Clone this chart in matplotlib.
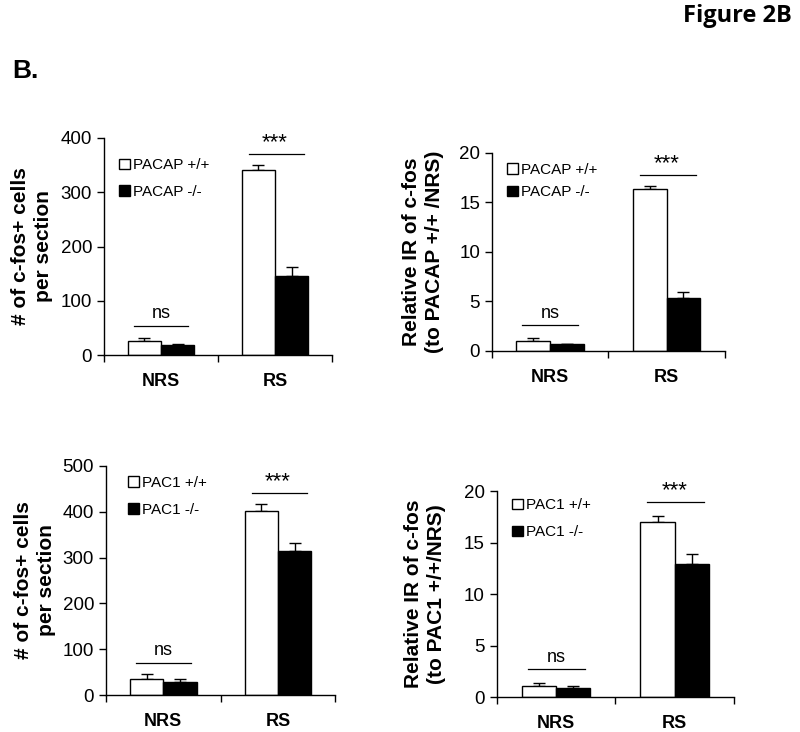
import matplotlib
matplotlib.use("Agg")
import matplotlib.pyplot as plt
from matplotlib.patches import Patch

plt.rcParams['font.family'] = ['Liberation Sans', 'DejaVu Sans']

# datos
groups = ["NRS", "RS"]

# panel A: c-fos+ cells, PACAP
pacap_cells_wt = [25, 341]
pacap_cells_wt_err = [6, 9]
pacap_cells_ko = [18, 145]
pacap_cells_ko_err = [2, 17]

# panel B: relative IR, PACAP
pacap_ir_wt = [1.04, 16.37]
pacap_ir_wt_err = [0.24, 0.25]
pacap_ir_ko = [0.67, 5.31]
pacap_ir_ko_err = [0.03, 0.67]

# panel C: c-fos+ cells, PAC1
pac1_cells_wt = [35, 402]
pac1_cells_wt_err = [10, 14]
pac1_cells_ko = [29, 315]
pac1_cells_ko_err = [6, 17]

# panel D: relative IR, PAC1
pac1_ir_wt = [1.04, 17.02]
pac1_ir_wt_err = [0.32, 0.55]
pac1_ir_ko = [0.87, 12.91]
pac1_ir_ko_err = [0.23, 0.94]


def panel(ax, wt, wt_err, ko, ko_err, ymax, ystep, ns_y, star_y,
          ylabel, labels, leg_anchor, leg_space=0.85, lpad=4):
    w = 0.29
    xs = [0.5, 1.5]
    xw = [x - w / 2 for x in xs]
    xk = [x + w / 2 for x in xs]
    ax.bar(xw, wt, w, color="white", edgecolor="black", linewidth=1, zorder=2)
    ax.bar(xk, ko, w, color="black", edgecolor="black", linewidth=1, zorder=2)
    ax.errorbar(xw, wt, yerr=[[0, 0], wt_err], fmt="none", ecolor="black",
                elinewidth=1, capsize=4, capthick=1, zorder=1)
    ax.errorbar(xk, ko, yerr=[[0, 0], ko_err], fmt="none", ecolor="black",
                elinewidth=1, capsize=4, capthick=1, zorder=1)
    # lineas de significancia
    ax.plot([0.26, 0.74], [ns_y, ns_y], color="black", lw=0.9)
    ax.text(0.5, ns_y + ymax * 0.015, "ns", ha="center", va="bottom", fontsize=13)
    ax.plot([1.27, 1.75], [star_y, star_y], color="black", lw=0.9)
    ax.text(1.5, star_y + ymax * 0.005, "***", ha="center", va="bottom", fontsize=16)

    ax.set_xlim(0, 2)
    ax.set_ylim(0, ymax)
    ax.set_yticks(range(0, int(ymax) + 1, ystep))
    ax.set_xticks([0, 1, 2])
    ax.set_xticklabels([])
    ax.set_xticks(xs, minor=True)
    ax.set_xticklabels(groups, minor=True, fontweight="bold", fontsize=13)
    ax.tick_params(axis="x", which="minor", length=0, pad=13)
    ax.tick_params(axis="x", which="major", length=5, width=1, direction="out")
    ax.tick_params(axis="y", length=5, width=1, direction="out", labelsize=13.5)
    for s in ["top", "right"]:
        ax.spines[s].set_visible(False)
    for s in ["left", "bottom"]:
        ax.spines[s].set_linewidth(1)
    ax.set_ylabel(ylabel, fontweight="bold", fontsize=15, linespacing=1.25,
                  labelpad=lpad)

    handles = [Patch(facecolor="white", edgecolor="black", label=labels[0]),
               Patch(facecolor="black", edgecolor="black", label=labels[1])]
    ax.legend(handles=handles, loc="upper left", bbox_to_anchor=leg_anchor,
              frameon=False, fontsize=11, handlelength=0.7, handleheight=0.7,
              handletextpad=0.2, labelspacing=leg_space, borderaxespad=0)


fig = plt.figure(figsize=(8, 7.32), dpi=100)

ax1 = fig.add_axes([0.130, 0.515, 0.285, 0.2965])
panel(ax1, pacap_cells_wt, pacap_cells_wt_err, pacap_cells_ko, pacap_cells_ko_err,
      400, 100, 54, 370, "# of c-fos+ cells\nper section",
      ["PACAP +/+", "PACAP -/-"], (0.04, 0.935), lpad=5.5)

ax2 = fig.add_axes([0.615, 0.5205, 0.291, 0.2705])
panel(ax2, pacap_ir_wt, pacap_ir_wt_err, pacap_ir_ko, pacap_ir_ko_err,
      20, 5, 2.62, 17.8, "Relative IR of c-fos\n(to PACAP +/+ /NRS)",
      ["PACAP +/+", "PACAP -/-"], (0.04, 0.98), 0.55, lpad=11)

ax3 = fig.add_axes([0.1325, 0.0505, 0.2865, 0.3129])
panel(ax3, pac1_cells_wt, pac1_cells_wt_err, pac1_cells_ko, pac1_cells_ko_err,
      500, 100, 71, 440, "# of c-fos+ cells\nper section",
      ["PAC1 +/+", "PAC1 -/-"], (0.07, 0.985), lpad=5)

ax4 = fig.add_axes([0.621, 0.0478, 0.2965, 0.2812])
panel(ax4, pac1_ir_wt, pac1_ir_wt_err, pac1_ir_ko, pac1_ir_ko_err,
      20, 5, 2.75, 18.93, "Relative IR of c-fos\n(to PAC1 +/+/NRS)",
      ["PAC1 +/+", "PAC1 -/-"], (0.04, 0.995), lpad=13)

fig.text(0.99, 0.978, "Figure 2B", ha="right", va="center", fontsize=17,
         fontweight="bold", family=["Open Sans", "DejaVu Sans"])
fig.text(0.015, 0.903, "B.", ha="left", va="center", fontsize=19, fontweight="bold")

fig.savefig("out.png", dpi=100)
